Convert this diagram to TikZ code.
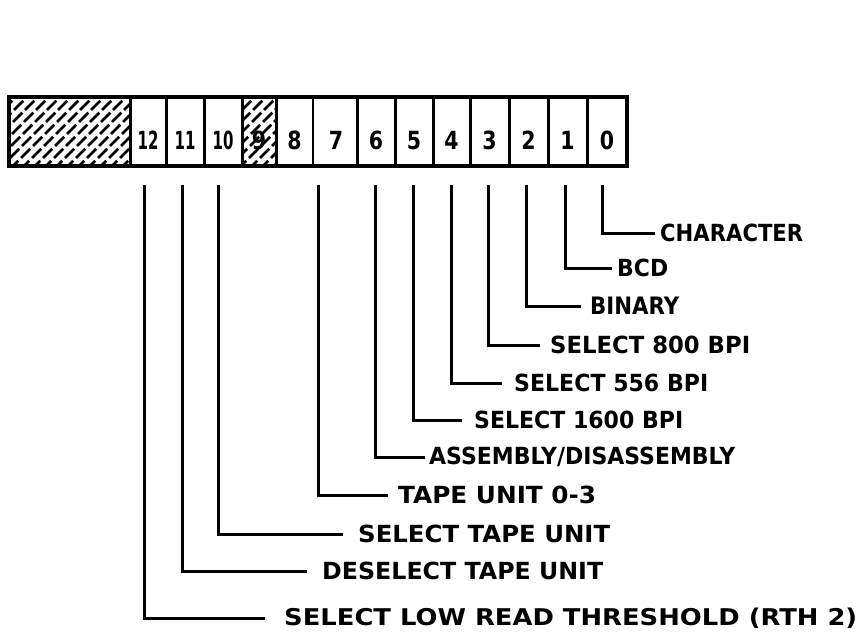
\documentclass[tikz,border=0pt]{standalone}
\usepackage{fontspec}
\setmainfont{DejaVu Sans}
\begin{document}
\begin{tikzpicture}[x=1pt,y=-1pt,
  regframe/.style={line width=3.5pt},
  divider/.style={line width=3pt},
  thindiv/.style={line width=1.2pt},
  leader/.style={line width=3pt},
  hatchline/.style={line width=2.8pt, dash pattern=on 13pt off 4pt},
  digit/.style={font=\bfseries\fontsize{25}{25}\selectfont, inner sep=0pt, anchor=base},
  lbl/.style={inner sep=0pt, anchor=west}]
\useasboundingbox (0,0) rectangle (858,632);
\newcommand{\lbltext}[2]{\resizebox{#1pt}{17.5pt}{\bfseries #2}}
\newcommand{\dd}[1]{\scalebox{0.6}[1]{#1}}
\newcommand{\sd}[1]{\scalebox{0.82}[1]{#1}}
% hatched unused field
\begin{scope}
  \clip (9,97) rectangle (130,166);
  \foreach \i in {-90,-79,...,140} \draw[hatchline] (\i,170) -- ++(80,-80);
\end{scope}
% digits
\node[digit] (d12) at (148,149) {\dd{12}};
\node[digit] (d11) at (185,149) {\dd{11}};
\node[digit] (d10) at (223,149) {\dd{10}};
\node[digit] (d9)  at (259,149) {\sd{9}};
\node[digit] (d8)  at (294.5,149) {\sd{8}};
\node[digit] (d7)  at (336,149) {\sd{7}};
\node[digit] (d6)  at (376,149) {\sd{6}};
\node[digit] (d5)  at (414,149) {\sd{5}};
\node[digit] (d4)  at (451.5,149) {\sd{4}};
\node[digit] (d3)  at (489.5,149) {\sd{3}};
\node[digit] (d2)  at (528.5,149) {\sd{2}};
\node[digit] (d1)  at (567.5,149) {\sd{1}};
\node[digit] (d0)  at (607,149) {\sd{0}};
% hatched bit 9
\begin{scope}
  \clip (242,97) rectangle (276,166);
  \foreach \i in {160,171,...,290} \draw[hatchline] (\i,170) -- ++(80,-80);
\end{scope}
% register frame and dividers
\draw[regframe] (9,97) rectangle (627,166);
\foreach \x in {130,166,204,242,276,357,395,433,470,509,548,587}
  \draw[divider] (\x,97) -- (\x,166);
\draw[thindiv] (313,97) -- (313,166);
% leader start points
\coordinate (s0) at (602,185);
\coordinate (s1) at (565,185);
\coordinate (s2) at (526,185);
\coordinate (s3) at (488,185);
\coordinate (s4) at (451,185);
\coordinate (s5) at (413,185);
\coordinate (s6) at (375,185);
\coordinate (s7) at (318,185);
\coordinate (s10) at (218,185);
\coordinate (s11) at (182,185);
\coordinate (s12) at (144,185);
% labels
\node[lbl] (l0) at (660,233) {\lbltext{143}{CHARACTER}};
\node[lbl] (l1) at (617,268) {\lbltext{51}{BCD}};
\node[lbl] (l2) at (590,306) {\lbltext{89}{BINARY}};
\node[lbl] (l3) at (550,345) {\lbltext{200}{SELECT 800 BPI}};
\node[lbl] (l4) at (514,383) {\lbltext{194}{SELECT 556 BPI}};
\node[lbl] (l5) at (474,420) {\lbltext{209}{SELECT 1600 BPI}};
\node[lbl] (l6) at (429,457) {\lbltext{306}{ASSEMBLY/DISASSEMBLY}};
\node[lbl] (l7) at (398,495) {\lbltext{198}{TAPE UNIT 0-3}};
\node[lbl] (l10) at (358,534) {\lbltext{252}{SELECT TAPE UNIT}};
\node[lbl] (l11) at (322,571) {\lbltext{281}{DESELECT TAPE UNIT}};
\node[lbl] (l12) at (284,618) {\lbltext{573}{SELECT LOW READ THRESHOLD (RTH 2)}};
% leaders
\draw[leader] (s0) |- ([xshift=-5pt]l0.west);
\draw[leader] (s1) |- ([xshift=-5pt]l1.west);
\draw[leader] (s2) |- ([xshift=-9pt]l2.west);
\draw[leader] (s3) |- ([xshift=-10pt]l3.west);
\draw[leader] (s4) |- ([xshift=-12pt]l4.west);
\draw[leader] (s5) |- ([xshift=-12pt]l5.west);
\draw[leader] (s6) |- ([xshift=-4pt]l6.west);
\draw[leader] (s7) |- ([xshift=-10pt]l7.west);
\draw[leader] (s10) |- ([xshift=-15pt]l10.west);
\draw[leader] (s11) |- ([xshift=-15pt]l11.west);
\draw[leader] (s12) |- ([xshift=-19pt]l12.west);
\end{tikzpicture}
\end{document}
